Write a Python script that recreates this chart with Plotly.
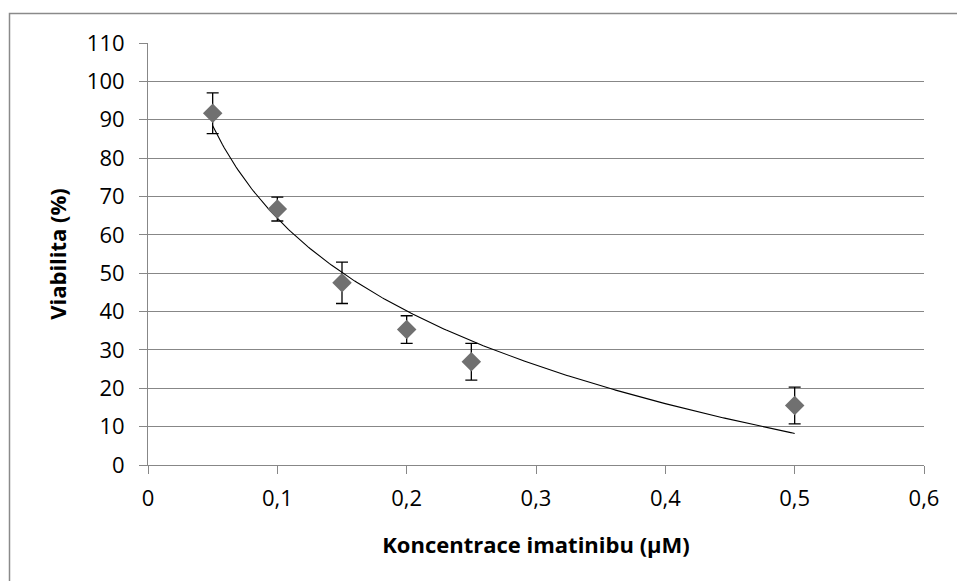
import numpy as np
import plotly.graph_objects as go

conc = [0.05, 0.1, 0.15, 0.2, 0.25, 0.5]
viability = [91.7, 66.7, 47.5, 35.3, 26.9, 15.5]
err = [5.3, 3.1, 5.4, 3.6, 4.8, 4.8]

# logarithmic trendline (least squares on ln x)
a, b = np.polyfit(np.log(conc), viability, 1)
xt = np.linspace(min(conc), max(conc), 300)
yt = a * np.log(xt) + b

FONT = "Open Sans"
GRID = "#878787"

fig = go.Figure()
fig.add_trace(go.Scatter(x=xt, y=yt, mode="lines",
                         line=dict(color="#000000", width=1.1),
                         hoverinfo="skip", showlegend=False))
fig.add_trace(go.Scatter(x=conc, y=viability, mode="markers",
                         marker=dict(symbol="diamond", size=15, color="#707070"),
                         error_y=dict(type="data", array=err, visible=True,
                                      color="#000000", thickness=1.3, width=6),
                         showlegend=False))

fig.update_layout(
    width=957, height=581,
    margin=dict(l=148, r=33, t=43, b=116),
    paper_bgcolor="white", plot_bgcolor="white",
    separators=", ",
    font=dict(family=FONT, color="#000000", size=22),
    xaxis=dict(range=[0, 0.6], dtick=0.1, tick0=0,
               showgrid=False, zeroline=False,
               showline=True, linecolor=GRID, linewidth=1,
               ticks="outside", ticklen=8, tickcolor=GRID,
               tickfont=dict(size=22), ticklabelstandoff=6,
               title=dict(text="<b>Koncentrace imatinibu (µM)</b>",
                          font=dict(size=22), standoff=26)),
    yaxis=dict(range=[0, 110], dtick=10, tick0=0,
               showgrid=True, gridcolor=GRID, gridwidth=1,
               zeroline=False,
               showline=True, linecolor=GRID, linewidth=1,
               ticks="outside", ticklen=8, tickcolor=GRID,
               tickfont=dict(size=22), ticklabelstandoff=10,
               title=dict(text="<b>Viabilita (%)</b>",
                          font=dict(size=22), standoff=14)),
    shapes=[dict(type="rect", xref="paper", yref="paper",
                 x0=(9.5 - 148) / 776, x1=1.2, y0=-0.6, y1=(465 - 13.5) / 422,
                 line=dict(color="#8a8a8a", width=1.5), layer="below")],
)

fig.write_html("out.html")
